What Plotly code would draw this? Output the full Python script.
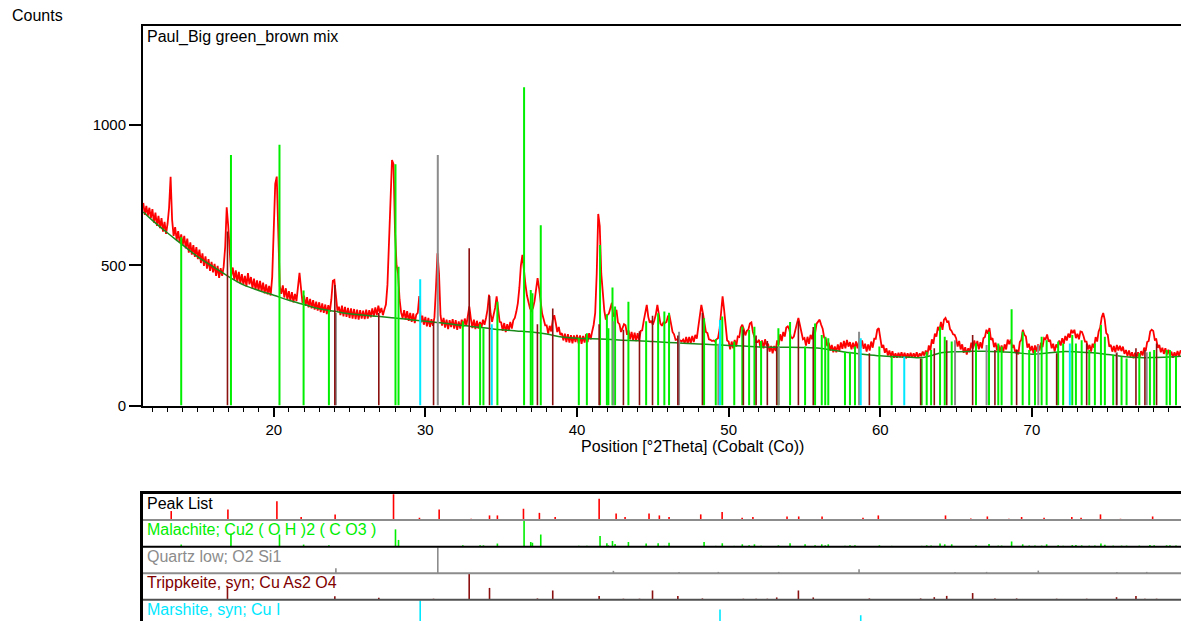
import numpy as np
import plotly.graph_objects as go

# ---------------- data ----------------
scan_start, scan_step = 11.4, 0.1
counts = [
    722, 680, 712, 676, 705, 668,
    700, 652, 688, 640, 676, 632, 668, 620, 655, 612,
    648, 705, 815, 662, 605, 636, 590, 622, 580, 610,
    572, 605, 560, 595, 545, 582, 538, 572, 530, 565,
    522, 556, 508, 542, 498, 532, 488, 522, 480, 512,
    475, 505, 462, 498, 455, 490, 462, 495, 565, 707,
    640, 525, 462, 492, 448, 482, 440, 476, 435, 468,
    430, 462, 425, 472, 432, 458, 418, 452, 412, 446,
    410, 444, 405, 438, 400, 432, 396, 426, 392, 458,
    620, 790, 816, 560, 425, 398, 428, 385, 418, 378,
    408, 372, 404, 368, 398, 372, 425, 473, 418, 365,
    392, 355, 386, 350, 380, 346, 376, 342, 370, 338,
    368, 333, 364, 330, 360, 326, 358, 334, 378, 445,
    448, 382, 338, 352, 322, 356, 318, 352, 316, 348,
    312, 346, 310, 344, 308, 342, 306, 340, 310, 338,
    308, 342, 310, 340, 314, 346, 318, 350, 322, 356,
    330, 348, 322, 342, 360, 430, 560, 720, 875, 860,
    620, 500, 470, 378, 332, 312, 340, 306, 336, 302,
    330, 298, 328, 294, 324, 330, 390, 296, 320, 288,
    316, 282, 312, 280, 308, 284, 315, 420, 543, 470,
    322, 285, 312, 278, 306, 272, 304, 280, 308, 274,
    304, 270, 300, 274, 306, 280, 310, 284, 322, 353,
    310, 276, 306, 272, 302, 274, 298, 278, 306, 288,
    312, 342, 395, 328, 298, 322, 348, 389, 352, 298,
    296, 266, 294, 262, 290, 266, 298, 274, 304, 312,
    335, 365, 420, 500, 537, 468, 432, 392, 368, 346,
    338, 348, 372, 412, 454, 418, 372, 328, 308, 286,
    286, 256, 284, 264, 305, 322, 294, 262, 280, 252,
    258, 232, 256, 226, 254, 224, 251, 222, 250, 226,
    252, 222, 250, 220, 248, 224, 254, 226, 258, 236,
    264, 288, 330, 470, 683, 640, 470, 389, 338, 306,
    322, 328, 352, 366, 318, 322, 341, 296, 290, 262,
    276, 290, 286, 252, 268, 236, 262, 232, 260, 230,
    258, 232, 266, 268, 302, 330, 359, 316, 295, 302,
    288, 304, 325, 359, 332, 292, 284, 296, 294, 298,
    318, 320, 292, 262, 254, 234, 236, 232, 232, 228,
    235, 222, 244, 220, 244, 222, 248, 226, 252, 238,
    280, 322, 359, 330, 302, 262, 258, 236, 234, 230,
    232, 228, 236, 240, 272, 320, 389, 342, 288, 232,
    228, 200, 228, 204, 234, 210, 246, 244, 278, 288,
    272, 250, 266, 270, 292, 296, 262, 244, 226, 226,
    234, 206, 232, 204, 236, 214, 220, 192, 212, 186,
    212, 194, 232, 216, 254, 230, 262, 246, 278, 282,
    272, 244, 240, 246, 274, 292, 312, 288, 266, 236,
    240, 214, 245, 220, 252, 236, 268, 258, 292, 298,
    306, 288, 274, 242, 240, 212, 224, 196, 216, 190,
    210, 190, 218, 194, 225, 202, 230, 204, 234, 210,
    226, 200, 224, 202, 228, 204, 230, 206, 232, 202,
    220, 192, 218, 196, 228, 206, 238, 238, 270, 276,
    248, 206, 216, 188, 204, 178, 196, 172, 194, 170,
    186, 170, 188, 172, 190, 170, 188, 168, 186, 170,
    188, 170, 186, 172, 190, 170, 186, 176, 192, 178,
    196, 178, 214, 196, 236, 220, 256, 246, 280, 268,
    298, 270, 306, 312, 298, 300, 272, 266, 254, 252,
    240, 210, 230, 200, 218, 188, 208, 182, 204, 190,
    224, 202, 232, 206, 230, 200, 226, 204, 240, 244,
    270, 256, 276, 234, 240, 208, 224, 196, 216, 192,
    214, 190, 218, 200, 235, 218, 235, 206, 216, 188,
    199, 182, 226, 234, 270, 252, 246, 206, 220, 194,
    212, 186, 214, 192, 218, 196, 224, 208, 240, 236,
    253, 228, 234, 204, 220, 192, 218, 206, 232, 214,
    240, 220, 248, 232, 256, 242, 270, 258, 270, 240,
    256, 236, 264, 262, 248, 228, 228, 200, 216, 192,
    220, 206, 244, 228, 264, 278, 314, 330, 306, 258,
    252, 210, 216, 192, 212, 190, 216, 196, 213, 194,
    210, 184, 198, 176, 196, 174, 190, 168, 188, 172,
    190, 170, 194, 178, 206, 194, 226, 230, 264, 270,
    266, 234, 236, 206, 216, 190, 206, 184, 204, 182,
    199, 176, 192, 170, 190, 174, 194, 176, 196, 189,
]
two_theta = np.round(scan_start + scan_step * np.arange(len(counts)), 2)

bg_x = [11.4, 12, 13, 13.7, 15, 16, 17, 18, 19, 20, 21, 22, 23, 24, 25, 26, 27, 28, 29, 30,
        31, 32, 33, 34, 35, 36, 37, 38, 39, 40, 41, 42, 43, 44, 45, 46, 47, 48, 49, 50,
        51, 52, 53, 54, 55, 56, 57, 58, 59, 60, 61, 62, 62.7, 63.5, 64, 65, 66, 67, 68, 69,
        70, 71, 72, 73, 74, 75, 76, 77, 78, 79, 79.9]
bg_y = [690, 660, 615, 585, 530, 495, 460, 430, 410, 393, 375, 360, 345, 336, 327, 322, 317, 312, 306, 300,
        295, 288, 282, 276, 270, 266, 262, 255, 244, 240, 238, 236, 233, 231, 228, 225, 222, 219, 217, 214,
        212, 209, 208, 208, 207, 204, 196, 188, 182, 177, 174, 172, 171, 180, 188, 192, 193, 193, 192, 188,
        183, 187, 192, 191, 188, 182, 175, 171, 171, 173, 176]

peak_pos = [13.24, 16.98, 20.21, 21.81, 24.05, 27.90, 29.61, 30.91, 33.02, 34.23,
            34.75, 36.47, 37.52, 38.56, 41.46, 42.58, 43.17, 44.75, 45.43, 46.07,
            48.16, 49.57, 50.89, 51.60, 53.85, 54.62, 56.16, 58.86, 59.87, 64.30,
            65.97, 67.06, 68.48, 69.32, 70.80, 72.63, 73.24, 74.52, 75.84, 77.96]
peak_rel = [0.35, 0.41, 0.73, 0.12, 0.22, 1.0, 0.09, 0.41, 0.05, 0.18,
            0.18, 0.44, 0.28, 0.12, 0.83, 0.25, 0.12, 0.25, 0.18, 0.12,
            0.22, 0.31, 0.09, 0.12, 0.14, 0.14, 0.14, 0.09, 0.18, 0.18,
            0.06, 0.14, 0.05, 0.12, 0.09, 0.12, 0.09, 0.22, 0.05, 0.14]

mal_pos = [13.90, 17.18, 20.38, 21.97, 23.64, 28.03, 28.23, 32.47, 33.61, 33.83,
           34.75, 36.51, 36.95, 37.06, 37.61, 40.12, 40.65, 41.52, 41.97, 42.07,
           42.34, 42.51, 43.39, 44.56, 45.35, 45.76, 46.07, 48.38, 49.15, 49.58,
           50.37, 50.90, 51.35, 51.70, 52.14, 53.28, 54.05, 55.04, 55.70, 56.14,
           56.37, 56.57, 57.67, 58.00, 58.33, 59.94, 60.75, 62.73, 63.06, 63.35,
           63.94, 64.25, 64.71, 66.31, 67.17, 67.78, 68.00, 68.66, 69.39, 69.82,
           70.20, 70.64, 70.97, 71.73, 72.06, 72.66, 72.90, 73.28, 73.78, 74.15,
           74.55, 74.81, 75.36, 75.91, 76.24, 77.08, 77.78, 78.06, 78.88, 79.10,
           79.50]
mal_h = [600, 893, 930, 410, 340, 860, 495, 300, 290, 275,
         370, 1135, 412, 400, 643, 240, 258, 572, 325, 275,
         421, 353, 370, 300, 329, 335, 331, 311, 237, 317,
         228, 281, 269, 281, 230, 275, 298, 210, 292, 251,
         245, 240, 192, 192, 210, 210, 174, 168, 192, 198,
         281, 245, 228, 221, 263, 221, 210, 343, 263, 198,
         198, 245, 233, 228, 221, 251, 221, 233, 198, 221,
         287, 245, 180, 174, 168, 186, 192, 198, 198, 198,
         174]
mal_rel = [0.08, 0.50, 0.47, 0.08, 0.05, 0.67, 0.26, 0.05, 0.05, 0.05,
           0.12, 1.0, 0.18, 0.15, 0.47, 0.03, 0.03, 0.41, 0.13, 0.05,
           0.22, 0.10, 0.18, 0.12, 0.13, 0.03, 0.15, 0.18, 0.03, 0.13,
           0.03, 0.09, 0.05, 0.09, 0.03, 0.05, 0.13, 0.09, 0.05, 0.09,
           0.05, 0.09, 0.03, 0.05, 0.05, 0.05, 0.03, 0.03, 0.05, 0.04,
           0.12, 0.09, 0.09, 0.05, 0.10, 0.04, 0.04, 0.20, 0.09, 0.04,
           0.04, 0.04, 0.09, 0.05, 0.03, 0.06, 0.06, 0.05, 0.04, 0.04,
           0.12, 0.07, 0.04, 0.04, 0.04, 0.04, 0.06, 0.05, 0.05, 0.05,
           0.04]

qtz_pos = [24.10, 30.82, 42.40, 46.73, 49.32, 53.30, 58.60, 64.93, 67.01, 70.42, 75.60, 77.57]
qtz_h = [330, 893, 300, 263, 220, 210, 263, 233, 216, 216, 190, 190]
qtz_rel = [0.19, 1.0, 0.09, 0.05, 0.05, 0.05, 0.15, 0.05, 0.05, 0.10, 0.05, 0.05]

trip_pos = [16.95, 24.03, 26.93, 30.54, 32.89, 34.23, 37.39, 38.40, 41.46, 43.06, 44.12,
            44.98, 46.65, 48.27, 50.97, 51.81, 52.55, 53.17, 54.60, 55.58, 59.28, 62.66,
            63.56, 64.38, 66.09, 67.56, 68.99, 71.63, 73.61, 75.58, 76.86, 77.45, 78.22]
trip_h = [620, 430, 330, 300, 561, 390, 290, 346, 290, 270, 265,
          320, 250, 330, 270, 250, 230, 210, 300, 280, 186, 168,
          204, 233, 251, 198, 198, 186, 221, 186, 204, 198, 221]
trip_rel = [0.49, 0.14, 0.08, 0.04, 1.0, 0.46, 0.05, 0.36, 0.15, 0.04, 0.04,
            0.36, 0.15, 0.05, 0.04, 0.04, 0.04, 0.09, 0.36, 0.09, 0.05, 0.05,
            0.10, 0.15, 0.26, 0.05, 0.05, 0.04, 0.04, 0.10, 0.15, 0.04, 0.04]

mar_pos = [29.66, 34.38, 49.43, 58.71, 61.58, 72.50]
mar_h = [450, 290, 305, 240, 174, 221]
mar_rel = [1.0, 0.05, 0.65, 0.43, 0.05, 0.10]

row_labels = ["Peak List", "Malachite; Cu2 ( O H )2 ( C O3 )", "Quartz low; O2 Si1",
              "Trippkeite, syn; Cu As2 O4", "Marshite, syn; Cu I"]

# ---------------- styling ----------------
FONT = "Liberation Sans, Arial, sans-serif"
RED, GREEN, GRAY, BROWN, CYAN = "#ff0000", "#00ee00", "#8c8c8c", "#8b1010", "#00e8ff"
X_RANGE = [11.38, 79.83]
W, H, L, T = 1181, 621, 143, 26
plot_h = H - T
main_bottom_px, lower_top_px = 405.5, 493.5
main_dom = [(H - main_bottom_px) / plot_h, 1]
low_dom = [0, (H - lower_top_px) / plot_h]


def stick_xy(pos, heights, base=0.0, scale=1.0):
    xs, ys = [], []
    for p, h in zip(pos, heights):
        xs += [p, p, None]
        ys += [base, base + h * scale, None]
    return xs, ys


fig = go.Figure()
fig.add_trace(go.Scatter(x=two_theta, y=counts, mode="lines",
                         line=dict(color=RED, width=1.8), xaxis="x", yaxis="y"))
fig.add_trace(go.Scatter(x=bg_x, y=bg_y, mode="lines",
                         line=dict(color="#1a8a1a", width=1.5, shape="spline"), xaxis="x", yaxis="y"))

for pos, hh, col, w in [(mal_pos, mal_h, GREEN, 2), (qtz_pos, qtz_h, GRAY, 2),
                        (trip_pos, trip_h, BROWN, 1.6), (mar_pos, mar_h, CYAN, 2)]:
    xs, ys = stick_xy(pos, hh)
    fig.add_trace(go.Scatter(x=xs, y=ys, mode="lines", line=dict(color=col, width=w),
                             xaxis="x", yaxis="y"))

# lower panel (rows from top: 4..0)
lower = [(peak_pos, peak_rel, RED, 4), (mal_pos, mal_rel, GREEN, 3), (qtz_pos, qtz_rel, GRAY, 2),
         (trip_pos, trip_rel, BROWN, 1), (mar_pos, mar_rel, CYAN, 0)]
for pos, rel, col, base in lower:
    xs, ys = stick_xy(pos, rel, base=base, scale=0.97)
    fig.add_trace(go.Scatter(x=xs, y=ys, mode="lines", line=dict(color=col, width=1.6),
                             xaxis="x2", yaxis="y2"))

shapes = []
for yv, col in [(4, "#8c8c8c"), (3, "#000000"), (2, "#8c8c8c"), (1, "#505050")]:
    shapes.append(dict(type="line", xref="x2 domain", x0=0, x1=1, yref="y2", y0=yv, y1=yv,
                       line=dict(color=col, width=2)))

label_cols = ["#000000", GREEN, GRAY, "#800000", CYAN]
annotations = []
for i, (txt, col) in enumerate(zip(row_labels, label_cols)):
    annotations.append(dict(text=txt, xref="x2 domain", x=0, xshift=2, xanchor="left",
                            yref="y2", y=5 - i, yanchor="top", yshift=1, showarrow=False,
                            font=dict(family=FONT, size=16, color=col)))
annotations.append(dict(text="Paul_Big green_brown mix", xref="x domain", x=0, xshift=2,
                        xanchor="left", yref="y domain", y=1, yanchor="top", yshift=0,
                        showarrow=False, font=dict(family=FONT, size=16, color="black")))
annotations.append(dict(text="Counts", xref="paper", x=(10 - L) / (W - L), xanchor="left",
                        yref="paper", y=(H - 15) / plot_h, yanchor="middle", showarrow=False,
                        font=dict(family=FONT, size=16, color="black")))
annotations.append(dict(text="Position [°2Theta] (Cobalt (Co))", xref="paper",
                        x=(692.5 - L) / (W - L), xanchor="center",
                        yref="paper", y=(H - 447) / plot_h, yanchor="middle", showarrow=False,
                        font=dict(family=FONT, size=16, color="black")))

fig.update_layout(
    width=W, height=H, autosize=False,
    margin=dict(l=L, r=0, t=T, b=0, pad=0, autoexpand=False),
    paper_bgcolor="white", plot_bgcolor="white",
    showlegend=False,
    font=dict(family=FONT, size=15, color="black"),
    xaxis=dict(domain=[0, 1], anchor="y", range=X_RANGE, showline=True, linecolor="black",
               linewidth=2, mirror=True, ticks="outside", ticklen=9, tickwidth=1.5,
               tickcolor="black", tick0=0, dtick=10, showgrid=False, zeroline=False,
               automargin=False,
               minor=dict(ticks="outside", ticklen=4, tickwidth=1, tickcolor="black", dtick=1,
                          showgrid=False),
               tickfont=dict(family=FONT, size=15, color="black")),
    yaxis=dict(domain=main_dom, anchor="x", range=[0, 1353], showline=True, linecolor="black",
               linewidth=2, ticks="outside", ticklen=12, tickwidth=1.5, tickcolor="black",
               tickvals=[0, 500, 1000], showgrid=False, zeroline=False, automargin=False,
               tickfont=dict(family=FONT, size=15, color="black")),
    xaxis2=dict(domain=[0, 1], anchor="y2", range=X_RANGE, side="top", showline=True,
                linecolor="black", linewidth=2.5, showticklabels=False, ticks="",
                showgrid=False, zeroline=False, automargin=False),
    yaxis2=dict(domain=low_dom, anchor="x2", range=[0.2, 5], showline=True, linecolor="black",
                linewidth=2.5, showticklabels=False, ticks="", showgrid=False, zeroline=False,
                automargin=False),
    shapes=shapes,
    annotations=annotations,
)

fig.write_html("out.html",
               config={"responsive": False, "displayModeBar": False},
               post_script="document.body.style.margin='0px';"
                           "document.documentElement.style.overflow='hidden';")
